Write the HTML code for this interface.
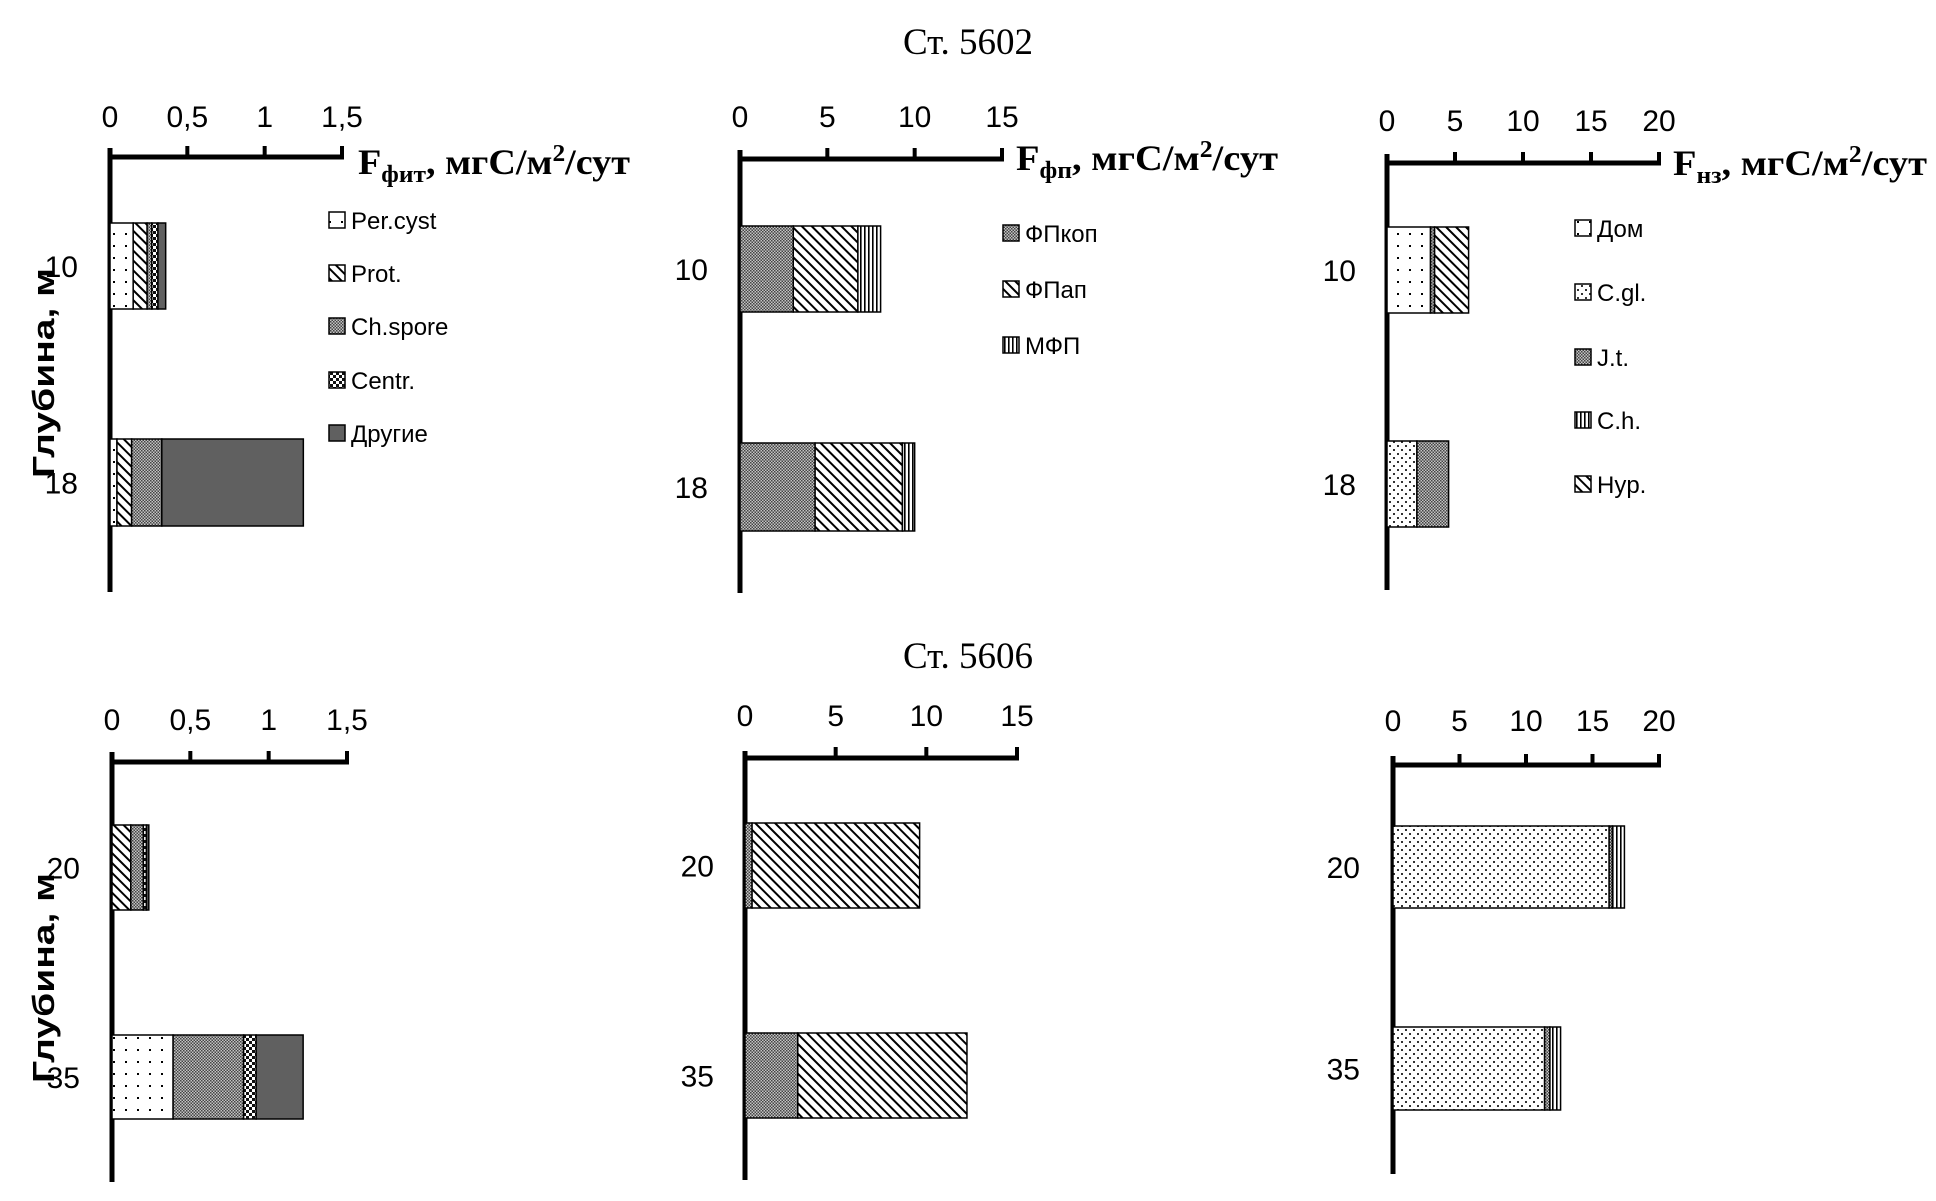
<!DOCTYPE html>
<html><head><meta charset="utf-8">
<style>
html,body{margin:0;padding:0;background:#fff;}
svg{display:block;}
.tick{font-family:"Liberation Sans",sans-serif;font-size:30px;fill:#000;}
.leg{font-family:"Liberation Sans",sans-serif;font-size:24px;fill:#000;}
.ttl{font-family:"Liberation Serif",serif;font-weight:bold;font-size:36px;fill:#000;}
.st{font-family:"Liberation Serif",serif;font-size:37px;fill:#000;}
.ylab{font-family:"Liberation Sans",sans-serif;font-weight:bold;font-size:31px;fill:#000;}
</style></head>
<body>
<svg id="chart" width="1936" height="1201" viewBox="0 0 1936 1201" xmlns="http://www.w3.org/2000/svg">
<defs>
<pattern id="p-sparse" width="12" height="12" patternUnits="userSpaceOnUse"><rect width="12" height="12" fill="#fff"/><rect x="5" y="5" width="2" height="2" fill="#000"/></pattern>
<pattern id="p-dense" width="8" height="8" patternUnits="userSpaceOnUse"><rect width="8" height="8" fill="#fff"/><rect x="1" y="1" width="2" height="2" fill="#333"/><rect x="5" y="5" width="2" height="2" fill="#333"/></pattern>
<pattern id="p-diag" width="7" height="7" patternUnits="userSpaceOnUse" patternTransform="rotate(-45)"><rect width="7" height="7" fill="#fff"/><rect x="0" y="0" width="2" height="7" fill="#000"/></pattern>
<pattern id="p-fine" width="3" height="3" patternUnits="userSpaceOnUse"><rect width="3" height="3" fill="#c4c4c4"/><rect width="1.5" height="1.5" fill="#444"/><rect x="1.5" y="1.5" width="1.5" height="1.5" fill="#444"/></pattern>
<pattern id="p-coarse" width="6" height="6" patternUnits="userSpaceOnUse"><rect width="6" height="6" fill="#fff"/><rect width="3" height="3" fill="#111"/><rect x="3" y="3" width="3" height="3" fill="#111"/></pattern>
<pattern id="p-vert" width="4" height="4" patternUnits="userSpaceOnUse"><rect width="4" height="4" fill="#fff"/><rect width="1.6" height="4" fill="#000"/></pattern>
</defs>
<text class="st" x="968" y="54" text-anchor="middle">Ст. 5602</text>
<text class="st" x="968" y="668" text-anchor="middle">Ст. 5606</text>
<text class="ylab" transform="translate(54,373) rotate(-90)" text-anchor="middle" textLength="210" lengthAdjust="spacingAndGlyphs">Глубина, м</text>
<text class="ylab" transform="translate(54,978) rotate(-90)" text-anchor="middle" textLength="210" lengthAdjust="spacingAndGlyphs">Глубина, м</text>
</svg>
<script>
// ---- data ----
const fitSeries = ['Per.cyst','Prot.','Ch.spore','Centr.','Другие'];
const fpSeries = ['ФПкоп','ФПап','МФП'];
const nzSeries = ['Дом','C.gl.','J.t.','C.h.','Hyp.'];
const depthTop = ['10','18'];
const depthBottom = ['20','35'];
const fitTicks = ['0','0,5','1','1,5'];
const fpTicks = ['0','5','10','15'];
const nzTicks = ['0','5','10','15','20'];
const fitTickValues = [0,0.5,1,1.5];
const fpTickValues = [0,5,10,15];
const nzTickValues = [0,5,10,15,20];
// station 5602
const fit5602d10 = [0.15,0.09,0.03,0.04,0.05];
const fit5602d18 = [0.045,0.095,0.195,0,0.915];
const fp5602d10 = [3.05,3.7,1.3];
const fp5602d18 = [4.3,5.0,0.7];
const nz5602d10 = [3.2,0,0.3,0,2.5];
const nz5602d18 = [0,2.2,2.33,0,0];
// station 5606
const fit5606d20 = [0,0.12,0.08,0.02,0.015];
const fit5606d35 = [0.39,0,0.45,0.08,0.30];
const fp5606d20 = [0.39,9.24,0];
const fp5606d35 = [2.91,9.33,0];
const nz5606d20 = [0,16.25,0.25,0.9,0];
const nz5606d35 = [0,11.4,0.4,0.8,0];

const fitFills = ['url(#p-sparse)','url(#p-diag)','url(#p-fine)','url(#p-coarse)','#606060'];
const fpFills = ['url(#p-fine)','url(#p-diag)','url(#p-vert)'];
const nzFills = ['url(#p-sparse)','url(#p-dense)','url(#p-fine)','url(#p-vert)','url(#p-diag)'];

const svg = document.getElementById('chart');
const NS = 'http://www.w3.org/2000/svg';
function mk(tag, attrs, parent){
  const e = document.createElementNS(NS, tag);
  for (const k in attrs) e.setAttribute(k, attrs[k]);
  (parent||svg).appendChild(e);
  return e;
}

function drawPanel(cfg){
  const g = mk('g', {});
  
  
  const sx = v => cfg.x0 + v * (cfg.x1 - cfg.x0) / cfg.max;
  const va = mk('line', {x1:cfg.x0, y1:cfg.vTop, x2:cfg.x0, y2:cfg.vBot, stroke:'#000','stroke-width':5}, g);
  
  
  const ha = mk('line', {x1:cfg.x0, y1:cfg.ay, x2:sx(cfg.max)+2, y2:cfg.ay, stroke:'#000','stroke-width':5}, g);
  
  
  cfg.tickValues.forEach((v,i)=>{
    if (i>0){
      const t = mk('line', {x1:sx(v), y1:cfg.ay, x2:sx(v), y2:cfg.ay-11, stroke:'#000','stroke-width':4}, g);
      
      
    }
    const tl = mk('text', {x:sx(v), y:cfg.tickY, 'text-anchor':'middle', class:'tick'}, g);
    
    
    tl.textContent = cfg.ticks[i];
  });
  cfg.bars.forEach((b,bi)=>{
    let acc = 0;
    b.values.forEach((v,si)=>{
      if (v<=0) return;
      const r = mk('rect', {x:sx(acc), y:b.y0, width:sx(acc+v)-sx(acc), height:b.y1-b.y0, fill:cfg.fills[si], stroke:'#000','stroke-width':1.5}, g);
      
      
      acc += v;
    });
    const dl = mk('text', {x:cfg.depthX, y:(b.y0+b.y1)/2+11, 'text-anchor':'end', class:'tick'}, g);
    
    
    dl.textContent = cfg.depths[bi];
  });
  if (cfg.title){
    const t = mk('text', {x:cfg.titleX, y:cfg.titleY, class:'ttl', textLength:cfg.titleW, lengthAdjust:'spacingAndGlyphs'}, g);
    
    
    const s1 = mk('tspan', {}, t); s1.textContent = 'F';
    const s2 = mk('tspan', {dy:8,'font-size':24}, t); s2.textContent = cfg.title;
    const s3 = mk('tspan', {dy:-8}, t); s3.textContent = ', мгС/м';
    const s4 = mk('tspan', {dy:-13,'font-size':24}, t); s4.textContent = '2';
    const s5 = mk('tspan', {dy:13}, t); s5.textContent = '/сут';
  }
  if (cfg.legendX){
    cfg.series.forEach((s,i)=>{
      const lg = mk('g', {}, g);
      
      
      const y = cfg.legendY[i];
      mk('rect', {x:cfg.legendX, y:y-8, width:16, height:16, fill:cfg.fills[i], stroke:'#000','stroke-width':1.5}, lg);
      const lt = mk('text', {x:cfg.legendX+22, y:y+9, class:'leg'}, lg);
      lt.textContent = s;
    });
  }
}

drawPanel({name:'panel-5602-fit', x0:110, x1:342, max:1.5, ay:157, vTop:148, vBot:592, tickY:127,
  ticks:fitTicks, tickValues:fitTickValues, fills:fitFills, series:fitSeries, depths:depthTop, depthX:78,
  bars:[{y0:223,y1:309,values:fit5602d10},{y0:439,y1:526,values:fit5602d18}],
  title:'фит', titleX:358, titleY:174, titleW:272,
  legendX:329, legendY:[220,273,326,380,433]});
drawPanel({name:'panel-5602-fp', x0:740, x1:1002, max:15, ay:159, vTop:150, vBot:593, tickY:127,
  ticks:fpTicks, tickValues:fpTickValues, fills:fpFills, series:fpSeries, depths:depthTop, depthX:708,
  bars:[{y0:226,y1:312,values:fp5602d10},{y0:443,y1:531,values:fp5602d18}],
  title:'фп', titleX:1016, titleY:170, titleW:262,
  legendX:1003, legendY:[233,289,345]});
drawPanel({name:'panel-5602-nz', x0:1387, x1:1659, max:20, ay:163, vTop:154, vBot:590, tickY:131,
  ticks:nzTicks, tickValues:nzTickValues, fills:nzFills, series:nzSeries, depths:depthTop, depthX:1356,
  bars:[{y0:227,y1:313,values:nz5602d10},{y0:441,y1:527,values:nz5602d18}],
  title:'нз', titleX:1673, titleY:175, titleW:254,
  legendX:1575, legendY:[228,292,357,420,484]});
drawPanel({name:'panel-5606-fit', x0:112, x1:347, max:1.5, ay:762, vTop:752, vBot:1182, tickY:730,
  ticks:fitTicks, tickValues:fitTickValues, fills:fitFills, series:fitSeries, depths:depthBottom, depthX:80,
  bars:[{y0:825,y1:910,values:fit5606d20},{y0:1035,y1:1119,values:fit5606d35}]});
drawPanel({name:'panel-5606-fp', x0:745, x1:1017, max:15, ay:758, vTop:751, vBot:1180, tickY:726,
  ticks:fpTicks, tickValues:fpTickValues, fills:fpFills, series:fpSeries, depths:depthBottom, depthX:714,
  bars:[{y0:823,y1:908,values:fp5606d20},{y0:1033,y1:1118,values:fp5606d35}]});
drawPanel({name:'panel-5606-nz', x0:1393, x1:1659, max:20, ay:765, vTop:756, vBot:1174, tickY:731,
  ticks:nzTicks, tickValues:nzTickValues, fills:nzFills, series:nzSeries, depths:depthBottom, depthX:1360,
  bars:[{y0:826,y1:908,values:nz5606d20},{y0:1027,y1:1110,values:nz5606d35}]});
</script>
</body></html>
